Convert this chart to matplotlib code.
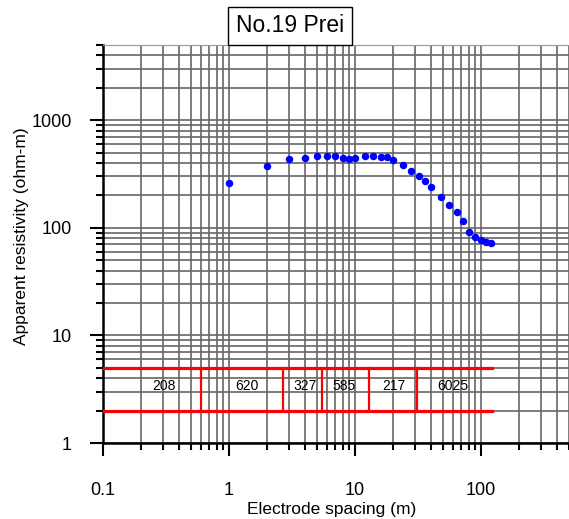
import numpy as np
import matplotlib.pyplot as plt
from matplotlib.patches import Rectangle
from matplotlib.ticker import FixedLocator, NullFormatter, LogLocator

plt.rcParams['font.family'] = ['Liberation Sans', 'DejaVu Sans']

# measured sounding curve
spacing = [1, 2, 3, 4, 5, 6, 7, 8, 9, 10, 12, 14, 16, 18, 20, 24, 28, 32, 36, 40,
           48, 56, 64, 72, 80, 90, 100, 110, 120]
resistivity = [263, 376, 436, 446, 469, 462, 469, 446, 433, 446, 462, 462, 459, 455, 424,
               384, 340, 301, 271, 242, 195, 162, 141, 116, 91, 82, 77, 74, 72]

# layer model (boundaries in m, resistivity per layer)
layer_bounds = [0.1, 0.6, 2.7, 5.5, 13, 31, 122]
layer_rho = ['208', '620', '327', '585', '217', '6025']
label_x = [0.305, 1.38, 4.0, 8.2, 20.5, 60]
model_low, model_high = 2, 5
label_y = 3.38

W, H = 569, 519
fig = plt.figure(figsize=(W / 100, H / 100), dpi=100)
ax = fig.add_axes([103 / W, 1 - 443 / H, 466 / W, 398 / H])

ax.set_xscale('log')
ax.set_yscale('log')
ax.set_xlim(0.1, 500)
ax.set_ylim(1, 5000)

# grid on every decade and sub-decade line
ax.xaxis.set_major_locator(FixedLocator([0.1, 1, 10, 100]))
ax.yaxis.set_major_locator(FixedLocator([1, 10, 100, 1000]))
ax.xaxis.set_minor_locator(LogLocator(base=10, subs=np.arange(2, 10)))
ax.yaxis.set_minor_locator(LogLocator(base=10, subs=np.arange(2, 10)))
ax.xaxis.set_minor_formatter(NullFormatter())
ax.yaxis.set_minor_formatter(NullFormatter())
ax.set_xticklabels(['0.1', '1', '10', '100'])
ax.set_yticklabels(['1', '10', '100', '1000'])
ax.grid(True, which='both', color='#666666', linewidth=1.2)
ax.set_axisbelow(True)

ax.tick_params(which='major', direction='out', length=9.4, width=1.5, labelsize=13, pad=13)
ax.tick_params(which='minor', direction='out', length=5, width=1.5)
ax.tick_params(axis='x', which='major', pad=18.5)

ax.spines['right'].set_visible(False)
ax.spines['top'].set_color('#999999')
ax.spines['left'].set_linewidth(1.8)
ax.spines['bottom'].set_linewidth(1.8)

# layer model
ax.plot([layer_bounds[0], layer_bounds[-1]], [model_high, model_high], color='#ff0000', lw=2.3, zorder=3)
ax.plot([layer_bounds[0], layer_bounds[-1]], [model_low, model_low], color='#ff0000', lw=2.3, zorder=3)
for b in layer_bounds[1:-1]:
    ax.plot([b, b], [model_low, model_high], color='#ff0000', lw=1.6, zorder=3)
for lx, txt in zip(label_x, layer_rho):
    ax.text(lx, label_y, txt, ha='center', va='center', fontsize=10, zorder=4)

ax.plot(spacing, resistivity, 'o', color='#0000ff', ms=5.4, mew=0, zorder=5, clip_on=False)

ax.set_xlabel('Electrode spacing (m)', fontsize=12.5)
ax.set_ylabel('Apparent resistivity (ohm-m)', fontsize=12.5)
ax.xaxis.set_label_coords((332 - 103) / 466, -(502 - 443) / 398)
ax.yaxis.set_label_coords(-(103 - 29) / 466, (443 - 236) / 398)

# title box
fig.patches.append(Rectangle((228 / W, 1 - 45 / H), 124 / W, 38 / H, transform=fig.transFigure,
                             facecolor='white', edgecolor='black', lw=1.0, zorder=10))
fig.text(290 / W, 1 - 26 / H, 'No.19 Prei', ha='center', va='center', fontsize=16.5, zorder=11)

plt.savefig('out.png', dpi=100)
